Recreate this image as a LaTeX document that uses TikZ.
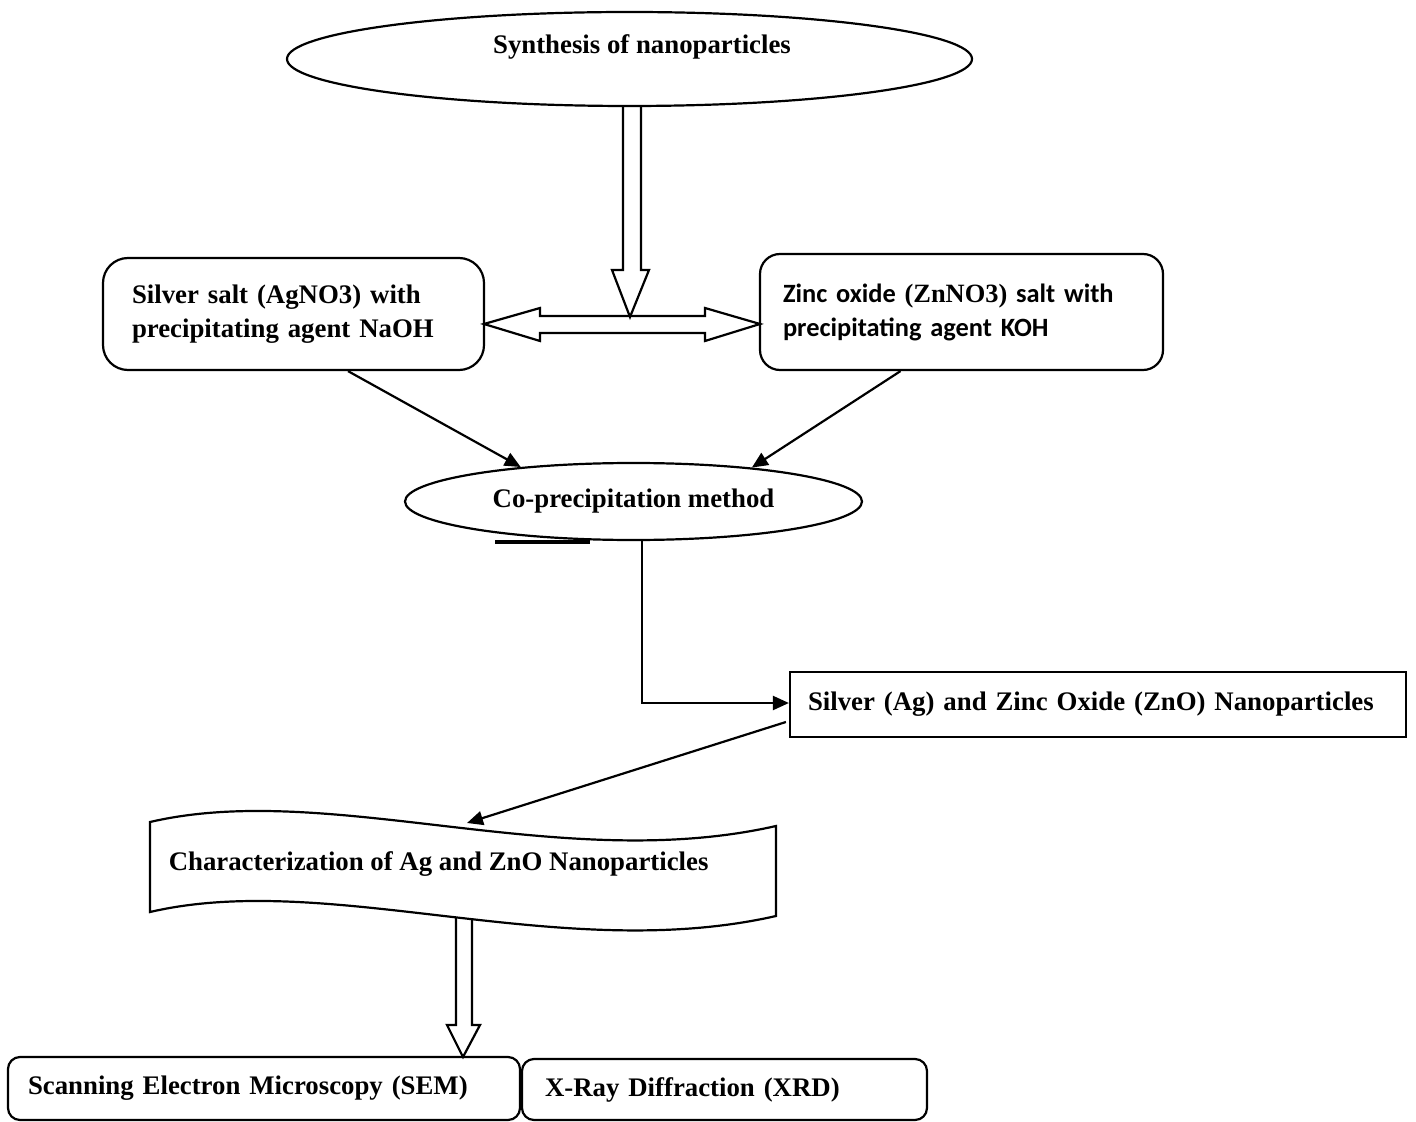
\documentclass[tikz,border=0pt]{standalone}
\usepackage{fontspec}
\setmainfont{Liberation Serif}
\newfontfamily\carlfont{Carlito}
\usetikzlibrary{shapes.geometric,arrows.meta,calc}
\begin{document}
\begin{tikzpicture}[x=0.5pt,y=-0.5pt, line width=1.1pt,
  txt/.style={font=\bfseries\fontsize{13.4}{17}\selectfont},
  txtc/.style={font=\carlfont\bfseries\fontsize{13.2}{17}\selectfont},
  ell/.style={draw, ellipse, inner sep=0pt},
  rbox/.style={draw, align=left},
  conn/.style={-{Triangle[length=8pt,width=7pt]}},
  hollow/.style={draw, line width=1.1pt, line join=miter}
]
\useasboundingbox (0,0) rectangle (1416,1122);

% top ellipse
\node[ell, minimum width=342.5pt, minimum height=47pt] (syn) at (629.5,59) {};
\node[txt] (syntxt) at (642,47) {Synthesis of nanoparticles};

% salt boxes
\node[rbox, txt, rounded corners=12.5pt, minimum height=56pt, text width=161.5pt, inner xsep=14.5pt] (ag) at (293.5,314) {Silver salt (AgNO3) with\\precipitating agent NaOH};
\node[rbox, txtc, rounded corners=10pt, minimum height=58pt, text width=178.5pt, inner xsep=11.5pt] (zn) at (961.5,312) {Zinc oxide {\rmfamily (ZnNO3)} salt with\\precipitating agent KOH};

% hollow down arrow from synthesis
\draw[hollow] (623,106) -- (623,270) -- (612,270) -- (630,317) -- (649,270) -- (641,270) -- (641,106);

% hollow double arrow between boxes
\coordinate (dl) at (484,324);
\coordinate (dr) at (760,324);
\draw[hollow] (dl) -- (540,308) -- (540,316) -- (705,316) -- (705,308) -- (dr) -- (705,341) -- (705,333) -- (540,333) -- (540,341) -- cycle;

% co-precipitation ellipse
\node[ell, txt, minimum width=228.5pt, minimum height=38.5pt] (cop) at (633.5,501.5) {Co-precipitation method};
\draw[line width=1.6pt] (495,542) -- (590,542);

\draw[conn] ($(ag.south)+(54.5,0)$) -- (cop.163);
\draw[conn] ($(zn.south)+(-61,0)$) -- (cop.16);

% nanoparticles box
\node[rbox, txt, minimum height=32.5pt, text width=290pt, inner xsep=9pt] (agzn) at (1098,704.5) {Silver (Ag) and Zinc Oxide (ZnO) Nanoparticles};
\draw[conn] ($(cop.south)+(8.5,0)$) |- ($(agzn.west)+(0,-1.5)$);

% characterization wave shape
\draw (150,822) .. controls (330,780) and (560,875) .. (776,826) -- (776,916) .. controls (560,965) and (330,870) .. (150,912) -- cycle;
\coordinate (wtop) at (467,823);
\node[txt, anchor=west] (chr) at (161,864) {Characterization of Ag and ZnO Nanoparticles};
\draw[conn] ($(agzn.west)+(-3,17.5)$) -- (wtop);

% hollow arrow down
\draw[hollow] (456,918) -- (456,1025) -- (447,1025) -- (463,1057) -- (480,1025) -- (472,1025) -- (472,918);

% bottom boxes
\node[rbox, txt, rounded corners=6pt, minimum height=31.5pt, text width=236pt, inner xsep=10pt] (sem) at (264,1088.5) {Scanning Electron Microscopy (SEM)};
\node[rbox, txt, rounded corners=6pt, minimum height=30.5pt, text width=179.5pt, inner xsep=11.5pt] (xrd) at (724.5,1089.5) {X-Ray Diffraction (XRD)};
\end{tikzpicture}
\end{document}
